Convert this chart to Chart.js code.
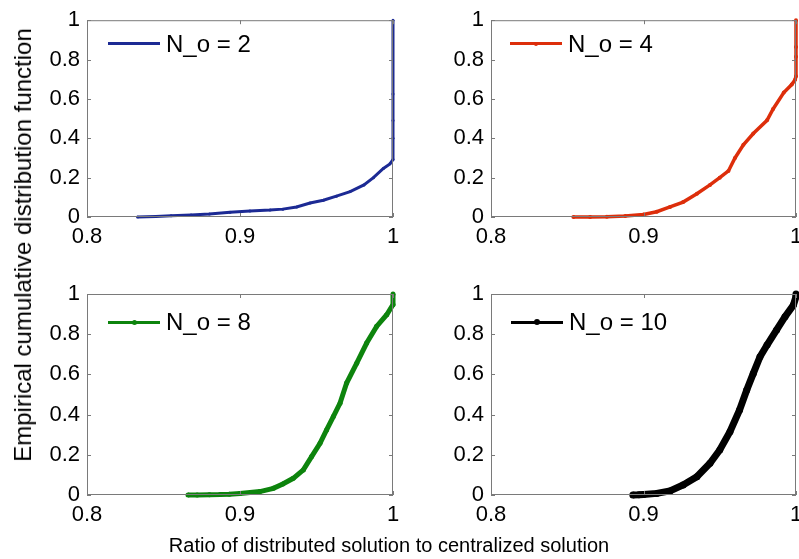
<!DOCTYPE html>
<html>
<head>
<meta charset="utf-8">
<script src="https://cdn.jsdelivr.net/npm/chart.js@4.4.1/dist/chart.umd.min.js"></script>
<style>
  html, body { margin: 0; padding: 0; background: #fff; }
  body { width: 799px; height: 559px; position: relative; overflow: hidden; font-family: "Liberation Sans", Arial, sans-serif; }
  canvas { position: absolute; }
  .leg-line { position: absolute; height: 3px; width: 52px; }
  .leg-dot { position: absolute; border-radius: 50%; }
  .leg-text { position: absolute; font-size: 24px; line-height: 1; color: #000; white-space: nowrap; }
  #ytitle { position: absolute; left: 22.5px; top: 245px; font-size: 24px; line-height: 1; white-space: nowrap;
    transform: translate(-50%, -50%) rotate(-90deg); }
  #xtitle { position: absolute; left: 389px; top: 535px; font-size: 20px; line-height: 1; white-space: nowrap;
    transform: translateX(-50%); }
</style>
</head>
<body>
<canvas id="c2" width="420" height="262" style="left:0;top:0"></canvas>
<canvas id="c4" width="400" height="262" style="left:420px;top:0"></canvas>
<canvas id="c8" width="420" height="289" style="left:0;top:270px"></canvas>
<canvas id="c10" width="400" height="289" style="left:420px;top:270px"></canvas>

<div id="ytitle">Empirical cumulative distribution function</div>
<div id="xtitle">Ratio of distributed solution to centralized solution</div>

<script>
// ratio values (x) and ECDF values (y)
const ratio2 = [0.833, 0.845, 0.855, 0.868, 0.88, 0.8935, 0.9065, 0.9196, 0.928, 0.937, 0.9458, 0.9545,
  0.963, 0.972, 0.981, 0.9872, 0.9937, 0.998, 1.0, 1.0, 1.0, 1.0, 1.0];
const cdf2 = [0, 0.003, 0.006, 0.01, 0.015, 0.024, 0.03, 0.035, 0.04, 0.051, 0.071, 0.085,
  0.106, 0.129, 0.163, 0.2, 0.247, 0.27, 0.292, 0.4, 0.49, 0.625, 1.0];

const ratio4 = [0.854, 0.865, 0.876, 0.888, 0.9, 0.9087, 0.9174, 0.926, 0.935, 0.9436, 0.95, 0.9557,
  0.96, 0.9655, 0.972, 0.981, 0.985, 0.992, 0.9972, 0.9994, 1.0, 1.0, 1.0, 1.0];
const cdf4 = [0, 0, 0.001, 0.005, 0.013, 0.027, 0.051, 0.076, 0.118, 0.163, 0.2, 0.234,
  0.3, 0.367, 0.424, 0.491, 0.549, 0.632, 0.673, 0.698, 0.715, 0.814, 0.864, 1.0];

const ratio8 = [0.866, 0.872, 0.88, 0.887, 0.893, 0.9, 0.913, 0.9218, 0.928, 0.9348, 0.9414, 0.9468,
  0.9523, 0.9566, 0.961, 0.9654, 0.9697, 0.9763, 0.9828, 0.9893, 0.9959, 1.0, 1.0];
const cdf8 = [0, 0, 0.001, 0.002, 0.004, 0.008, 0.017, 0.033, 0.055, 0.083, 0.125, 0.191,
  0.257, 0.324, 0.39, 0.457, 0.557, 0.656, 0.756, 0.839, 0.897, 0.947, 1.0];

const ratio10 = [0.893, 0.897, 0.9, 0.9087, 0.9174, 0.926, 0.935, 0.9436, 0.95, 0.9567, 0.963, 0.9677,
  0.972, 0.9764, 0.981, 0.9873, 0.9928, 0.9983, 1.0, 1.0];
const cdf10 = [0, 0.001, 0.003, 0.008, 0.02, 0.05, 0.091, 0.158, 0.224, 0.315, 0.423, 0.522,
  0.605, 0.688, 0.746, 0.821, 0.887, 0.945, 0.987, 1.0];

const xTicks = [0.8, 0.9, 1];
const yTicks = [0, 0.2, 0.4, 0.6, 0.8, 1];

const tickFont = { family: '"Liberation Sans", Arial, sans-serif', size: 22 };

// matlab style box with inward ticks
const frame = {
  id: 'frame',
  afterDatasetsDraw(chart) {
    const { ctx, chartArea: a, scales: { x, y } } = chart;
    const len = 4;
    ctx.save();
    ctx.strokeStyle = '#7a7a7a';
    ctx.lineWidth = 1;
    ctx.strokeRect(a.left + 0.5, a.top + 0.5, a.width - 1, a.height - 1);
    ctx.beginPath();
    x.ticks.forEach(t => {
      const px = Math.round(x.getPixelForValue(t.value)) + 0.5;
      ctx.moveTo(px, a.bottom); ctx.lineTo(px, a.bottom - len);
      ctx.moveTo(px, a.top); ctx.lineTo(px, a.top + len);
    });
    y.ticks.forEach(t => {
      const py = Math.round(y.getPixelForValue(t.value)) + 0.5;
      ctx.moveTo(a.left, py); ctx.lineTo(a.left + len, py);
      ctx.moveTo(a.right, py); ctx.lineTo(a.right - len, py);
    });
    ctx.stroke();
    ctx.restore();
  }
};

function makePanel(id, xs, ys, color, lineW, dotR, pad) {
  const points = xs.map((v, i) => ({ x: v, y: ys[i] }));
  return new Chart(document.getElementById(id), {
    type: 'line',
    data: {
      datasets: [{
        data: points,
        borderColor: color,
        backgroundColor: color,
        borderWidth: lineW,
        pointRadius: dotR,
        pointBorderWidth: 0,
        pointHoverRadius: dotR,
        tension: 0,
        clip: false
      }]
    },
    options: {
      responsive: false,
      animation: false,
      events: [],
      layout: { autoPadding: false, padding: { top: pad.top, right: pad.right, left: 0, bottom: 0 } },
      plugins: { legend: { display: false }, tooltip: { enabled: false } },
      scales: {
        x: {
          type: 'linear',
          min: xTicks[0], max: xTicks[xTicks.length - 1],
          afterBuildTicks: s => { s.ticks = xTicks.map(v => ({ value: v })); },
          afterFit: s => { s.height = pad.xh; },
          grid: { display: false, drawTicks: false },
          border: { display: false },
          ticks: { color: '#000', font: tickFont, padding: 7, maxRotation: 0, autoSkip: false,
            callback: v => String(+v.toFixed(2)) }
        },
        y: {
          type: 'linear',
          min: yTicks[0], max: yTicks[yTicks.length - 1],
          afterBuildTicks: s => { s.ticks = yTicks.map(v => ({ value: v })); },
          afterFit: s => { s.width = pad.yw; },
          grid: { display: false, drawTicks: false },
          border: { display: false },
          ticks: { color: '#000', font: tickFont, padding: 7, autoSkip: false,
            callback: v => String(+v.toFixed(2)) }
        }
      }
    },
    plugins: [frame]
  });
}

makePanel('c2', ratio2, cdf2, '#1c2a94', 3, 1.5, { top: 16, right: 27, yw: 87, xh: 45 });
makePanel('c4', ratio4, cdf4, '#dd2e0b', 3.5, 2, { top: 16, right: 24, yw: 71, xh: 45 });
makePanel('c8', ratio8, cdf8, '#0d840d', 5, 2.5, { top: 24, right: 27, yw: 87, xh: 64 });
makePanel('c10', ratio10, cdf10, '#000000', 7, 3.5, { top: 24, right: 24, yw: 71, xh: 64 });

// legends
const legends = [
  { label: 'N_o = 2', color: '#1c2a94', x: 108, y: 43.5, dot: 0 },
  { label: 'N_o = 4', color: '#dd2e0b', x: 510, y: 43.5, dot: 4 },
  { label: 'N_o = 8', color: '#0d840d', x: 108, y: 322, dot: 5 },
  { label: 'N_o = 10', color: '#000000', x: 511, y: 322, dot: 6 }
];
legends.forEach(l => {
  const line = document.createElement('div');
  line.className = 'leg-line';
  line.style.background = l.color;
  line.style.left = l.x + 'px';
  line.style.top = (l.y - 1.5) + 'px';
  document.body.appendChild(line);
  if (l.dot) {
    const d = document.createElement('div');
    d.className = 'leg-dot';
    d.style.background = l.color;
    d.style.width = d.style.height = l.dot + 'px';
    d.style.left = (l.x + 26 - l.dot / 2) + 'px';
    d.style.top = (l.y - l.dot / 2) + 'px';
    document.body.appendChild(d);
  }
  const t = document.createElement('div');
  t.className = 'leg-text';
  t.textContent = l.label;
  t.style.left = (l.x + 58) + 'px';
  t.style.top = (l.y - 12) + 'px';
  document.body.appendChild(t);
});
</script>
</body>
</html>
